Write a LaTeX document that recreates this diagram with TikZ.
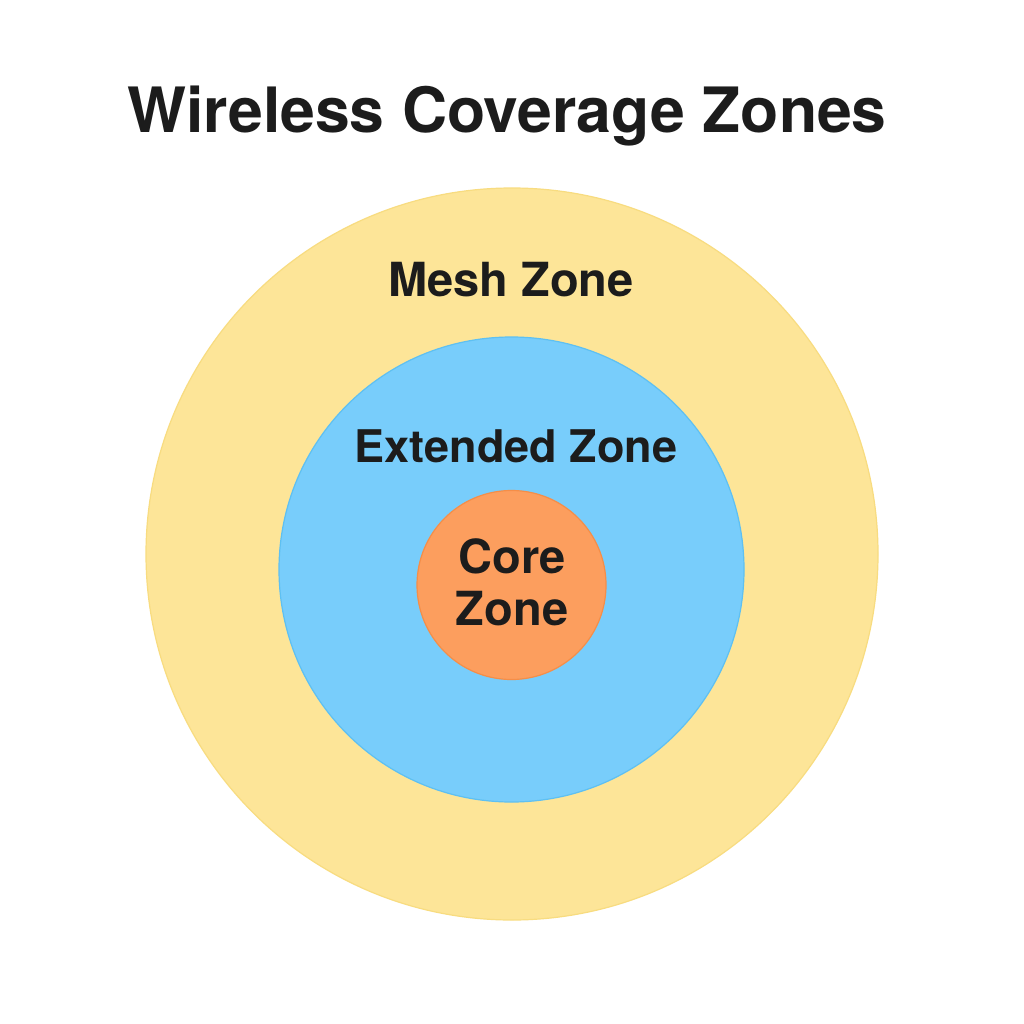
\documentclass[tikz,border=0pt]{standalone}
\usepackage{fontspec}
\setmainfont{TeX Gyre Heros}
\definecolor{meshc}{HTML}{FDE598}
\definecolor{meshb}{HTML}{F8DC80}
\definecolor{extc}{HTML}{78CDFB}
\definecolor{extb}{HTML}{5EC0F2}
\definecolor{corec}{HTML}{FC9E5E}
\definecolor{coreb}{HTML}{F58E48}
\definecolor{txt}{HTML}{1C1C1C}
\begin{document}
\begin{tikzpicture}[x=1pt,y=-1pt,
  zone/.style={circle,inner sep=0pt,line width=1.2pt},
  lbl/.style={anchor=base,text=txt,font=\fontsize{47}{52}\selectfont\bfseries,inner sep=0pt}]
\useasboundingbox (0,0) rectangle (1024,1024);
\fill[white] (0,0) rectangle (1024,1024);
\node[zone,fill=meshc,draw=meshb,minimum size=732pt] (mesh) at (512,554) {};
\node[zone,fill=extc,draw=extb,minimum size=465pt] (ext) at (511.5,569.5) {};
\node[zone,fill=corec,draw=coreb,minimum size=189pt] (core) at (511.5,585) {};
\node[lbl,font=\fontsize{62.5}{70}\selectfont\bfseries] (title) at (507,133) {Wireless Coverage Zones};
\node[lbl] (meshl) at (511,296) {Mesh Zone};
\node[lbl,font=\fontsize{45}{52}\selectfont\bfseries] (extl) at (516,462) {Extended Zone};
\node[lbl] (corel1) at (512,573) {Core};
\node[lbl] (corel2) at (512,625) {Zone};
\end{tikzpicture}
\end{document}
